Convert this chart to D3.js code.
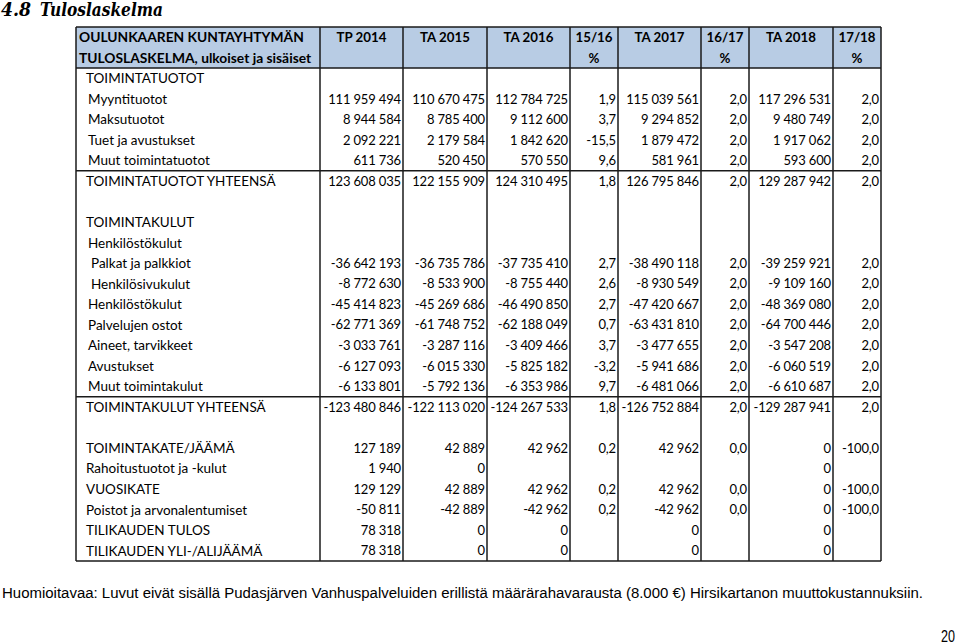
<!DOCTYPE html>
<html><head><meta charset="utf-8">
<script src="https://cdn.jsdelivr.net/npm/d3@7"></script>
<style>html,body{margin:0;padding:0;background:#fff;overflow:hidden;}</style>
</head><body>
<svg id="c" width="959" height="644"></svg>
<script>
// ---------------- DATA ----------------
const titleNumber = "4.8";
const titleText = "Tuloslaskelma";
const headerRow1 = ["OULUNKAAREN KUNTAYHTYMÄN", "TP 2014", "TA 2015", "TA 2016", "15/16", "TA 2017", "16/17", "TA 2018", "17/18"];
const headerRow2 = ["TULOSLASKELMA, ulkoiset ja sisäiset", "", "", "", "%", "", "%", "", "%"];
const rowLabels = [
  "TOIMINTATUOTOT", "Myyntituotot", "Maksutuotot", "Tuet ja avustukset", "Muut toimintatuotot",
  "TOIMINTATUOTOT YHTEENSÄ", "", "TOIMINTAKULUT", "Henkilöstökulut", "Palkat ja palkkiot",
  "Henkilösivukulut", "Henkilöstökulut", "Palvelujen ostot", "Aineet, tarvikkeet", "Avustukset",
  "Muut toimintakulut", "TOIMINTAKULUT YHTEENSÄ", "", "TOIMINTAKATE/JÄÄMÄ", "Rahoitustuotot ja -kulut",
  "VUOSIKATE", "Poistot ja arvonalentumiset", "TILIKAUDEN TULOS", "TILIKAUDEN YLI-/ALIJÄÄMÄ"
];
const indentLevel = [0,1,1,1,1, 0,0,0,1,2, 2,1,1,1,1, 1,0,0,0,0, 0,0,0,0];
const tp2014 = [null,111959494,8944584,2092221,611736,123608035,null,null,null,-36642193,-8772630,-45414823,-62771369,-3033761,-6127093,-6133801,-123480846,null,127189,1940,129129,-50811,78318,78318];
const ta2015 = [null,110670475,8785400,2179584,520450,122155909,null,null,null,-36735786,-8533900,-45269686,-61748752,-3287116,-6015330,-5792136,-122113020,null,42889,0,42889,-42889,0,0];
const ta2016 = [null,112784725,9112600,1842620,570550,124310495,null,null,null,-37735410,-8755440,-46490850,-62188049,-3409466,-5825182,-6353986,-124267533,null,42962,null,42962,-42962,0,0];
const pct1516 = [null,1.9,3.7,-15.5,9.6,1.8,null,null,null,2.7,2.6,2.7,0.7,3.7,-3.2,9.7,1.8,null,0.2,null,0.2,0.2,null,null];
const ta2017 = [null,115039561,9294852,1879472,581961,126795846,null,null,null,-38490118,-8930549,-47420667,-63431810,-3477655,-5941686,-6481066,-126752884,null,42962,null,42962,-42962,0,0];
const pct1617 = [null,2.0,2.0,2.0,2.0,2.0,null,null,null,2.0,2.0,2.0,2.0,2.0,2.0,2.0,2.0,null,0.0,null,0.0,0.0,null,null];
const ta2018 = [null,117296531,9480749,1917062,593600,129287942,null,null,null,-39259921,-9109160,-48369080,-64700446,-3547208,-6060519,-6610687,-129287941,null,0,0,0,0,0,0];
const pct1718 = [null,2.0,2.0,2.0,2.0,2.0,null,null,null,2.0,2.0,2.0,2.0,2.0,2.0,2.0,2.0,null,-100.0,null,-100.0,-100.0,null,null];
const footnote = "Huomioitavaa: Luvut eivät sisällä Pudasjärven Vanhuspalveluiden erillistä määrärahavarausta (8.000 €) Hirsikartanon muuttokustannuksiin.";
const pageNumber = "20";

// ---------------- LAYOUT ----------------
const columns = [tp2014, ta2015, ta2016, pct1516, ta2017, pct1617, ta2018, pct1718];
const isPct = [false,false,false,true,false,true,false,true];
const colEdges = [76, 320, 403, 487, 570, 618, 701, 749, 833, 881];
const nRows = 2 + rowLabels.length;
const y = d3.scaleBand().domain(d3.range(nRows)).range([27, 561]).paddingInner(0).paddingOuter(0);
const indentX = [86, 88, 91];
const FONT = "Lato, 'Open Sans', sans-serif";
const lineColor = "#1a1a1a";

const loc = d3.formatLocale({decimal: ",", thousands: "\u00a0", grouping: [3], currency: ["", ""], minus: "-"});
const fmtNum = loc.format(",.0f");
const fmtPct = loc.format(".1f");

const svg = d3.select("#c");
svg.append("rect").attr("width", 959).attr("height", 644).attr("fill", "#fff");

// title
const titleG = svg.append("g")
  .attr("font-family", "'DejaVu Serif', 'Liberation Serif', serif")
  .attr("font-weight", "bold").attr("font-style", "italic")
  .attr("font-size", 18).attr("fill", "#000");
titleG.append("text").attr("x", 1).attr("y", 16)
  .attr("textLength", 30).attr("lengthAdjust", "spacingAndGlyphs").text(titleNumber);
titleG.append("text").attr("x", 40).attr("y", 16)
  .attr("textLength", 123).attr("lengthAdjust", "spacingAndGlyphs").text(titleText);

// header background
svg.append("rect")
  .attr("x", colEdges[0]).attr("y", y(0))
  .attr("width", colEdges[colEdges.length-1] - colEdges[0])
  .attr("height", y(2) - y(0))
  .attr("fill", "#b8cce4");

const g = svg.append("g").attr("font-family", FONT).attr("fill", "#000");

// header text
[headerRow1, headerRow2].forEach((hr, ri) => {
  hr.forEach((t, ci) => {
    if (!t) return;
    const cy = y(ri) + y.bandwidth()/2;
    const el = g.append("text").attr("font-weight", "bold").attr("dy", "0.36em").attr("y", cy)
      .attr("font-size", ci === 0 ? 13.8 : 13.3).text(t);
    if (ci === 0) el.attr("x", colEdges[0] + 3);
    else el.attr("x", (colEdges[ci] + colEdges[ci+1]) / 2).attr("text-anchor", "middle");
  });
});

// row labels
rowLabels.forEach((lab, i) => {
  if (!lab) return;
  g.append("text").attr("x", indentX[indentLevel[i]]).attr("font-size", 13.5)
    .attr("y", y(i+2) + y.bandwidth()/2).attr("dy", "0.36em").text(lab);
});

// values
columns.forEach((arr, ci) => {
  const fmt = isPct[ci] ? fmtPct : fmtNum;
  g.selectAll(null).data(arr.map((v, i) => ({v, i})).filter(d => d.v !== null))
    .join("text")
    .attr("font-size", 13)
    .attr("letter-spacing", -0.15)
    .attr("x", colEdges[ci+2] - 2)
    .attr("y", d => y(d.i+2) + y.bandwidth()/2)
    .attr("dy", "0.36em")
    .attr("text-anchor", "end")
    .text(d => fmt(d.v));
});

// grid lines
const lines = svg.append("g").attr("stroke", lineColor).attr("stroke-width", 1.5);
colEdges.forEach(x => {
  lines.append("line").attr("x1", x).attr("x2", x).attr("y1", y(0)).attr("y2", y(nRows-1) + y.bandwidth());
});
const hRows = [0, 2, 7, 18];
hRows.forEach(r => {
  lines.append("line").attr("x1", colEdges[0]).attr("x2", colEdges[colEdges.length-1]).attr("y1", y(r)).attr("y2", y(r));
});
lines.append("line").attr("x1", colEdges[0]).attr("x2", colEdges[colEdges.length-1])
  .attr("y1", y(nRows-1) + y.bandwidth()).attr("y2", y(nRows-1) + y.bandwidth());

// footnote
svg.append("text").attr("x", 2).attr("y", 598)
  .attr("font-family", "'Liberation Sans', Arial, sans-serif").attr("font-size", 15.5).attr("fill", "#000")
  .attr("textLength", 921).attr("lengthAdjust", "spacingAndGlyphs")
  .text(footnote);

svg.append("text").attr("x", 955).attr("y", 642).attr("text-anchor", "end")
  .attr("font-family", "'Liberation Sans', Arial, sans-serif").attr("font-size", 16.5).attr("fill", "#000")
  .attr("textLength", 14).attr("lengthAdjust", "spacingAndGlyphs")
  .text(pageNumber);
</script>
</body></html>
